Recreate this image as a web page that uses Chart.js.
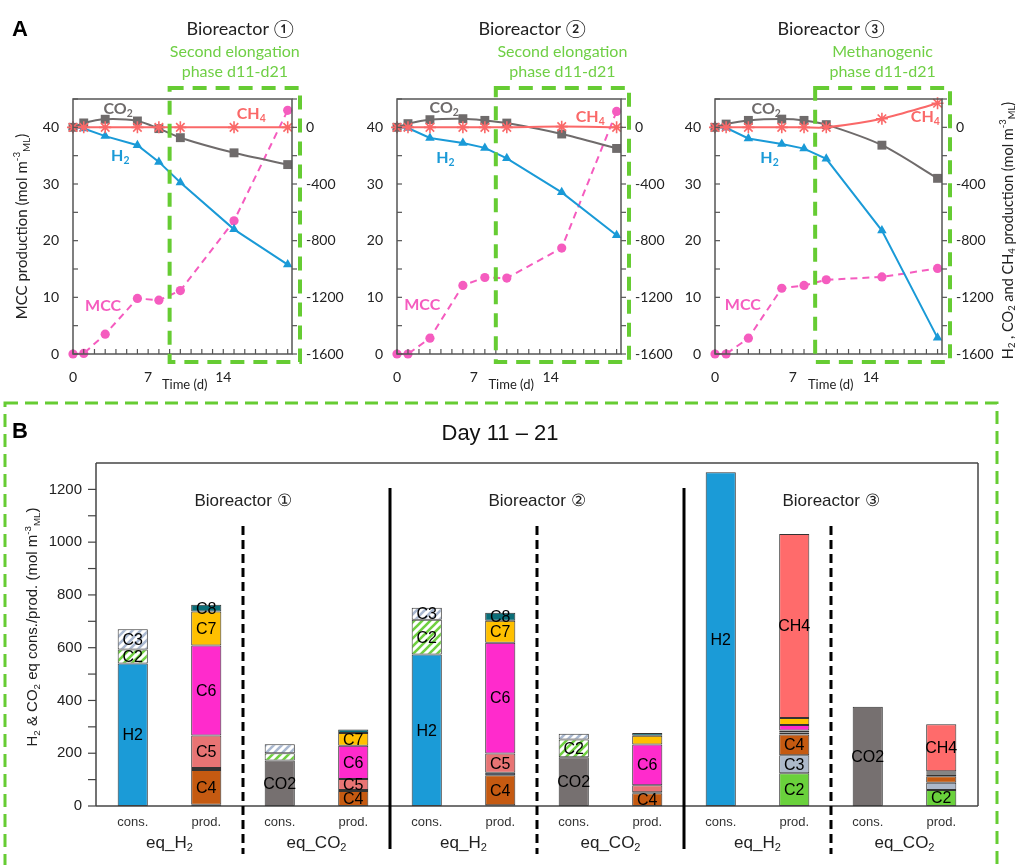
<!DOCTYPE html>
<html><head><meta charset="utf-8">
<script src="https://cdn.jsdelivr.net/npm/chart.js@4.4.0/dist/chart.umd.min.js"></script>
<style>
html,body{margin:0;padding:0;background:#fff;}
#wrap{position:relative;width:1018px;height:865px;overflow:hidden;background:#fff;}
canvas{position:absolute;left:0;}
</style></head><body>
<div id="wrap">
<canvas id="a1" width="1018" height="395" style="top:0"></canvas>
<canvas id="a2" width="1018" height="395" style="top:0"></canvas>
<canvas id="a3" width="1018" height="395" style="top:0"></canvas>
<canvas id="b" width="1018" height="470" style="top:395px"></canvas>
</div>
<script>
// ===== Panel A data =====
const DAYS = [0, 1, 3, 6, 8, 10, 15, 20];
const R1_MCC = [0, 0.1, 3.5, 9.8, 9.5, 11.2, 23.5, 43.0];
const R1_CO2 = [0, 31, 57, 45, -9, -73, -180, -263];
const R1_H2  = [0, -8, -62, -126, -244, -389, -720, -969];
const R1_CH4 = [0, 0, 0, 0, 0, 0, 0, 0];
const R2_MCC = [0, 0, 2.8, 12.1, 13.5, 13.4, 18.7, 42.8];
const R2_CO2 = [0, 26, 54, 61, 49, 30, -47, -149];
const R2_H2  = [0, -5, -75, -110, -145, -219, -459, -762];
const R2_CH4 = [0, 0, 0, 0, 0, 0, 5, 0];
const R3_MCC = [0, 0, 2.8, 11.6, 12.1, 13.1, 13.6, 15.1];
const R3_CO2 = [0, 23, 49, 58, 49, 19, -126, -360];
const R3_H2  = [0, -3, -79, -117, -150, -222, -729, -1486];
const R3_CH4 = [0, 0, 0, 0, 0, 0, 61, 170];
const A_TITLES = ['Bioreactor \u2460', 'Bioreactor \u2461', 'Bioreactor \u2462'];
const A_PHASE = [['Second elongation', 'phase d11-d21'], ['Second elongation', 'phase d11-d21'], ['Methanogenic', 'phase d11-d21']];
const PHASE_START = 9;
const X_TICKS_STEP = 7;

// ===== Panel B data =====
const BAR_LABELS = ['cons.','prod.','cons.','prod.','cons.','prod.','cons.','prod.','cons.','prod.','cons.','prod.'];
const B_TITLES = ['Bioreactor \u2460', 'Bioreactor \u2461', 'Bioreactor \u2462'];
const B_H2   = [540, null, null, null, 574, null, null, null, 1265, null, null, null];
const B_CO2  = [null, null, 172, null, null, null, 185, null, null, null, 376, null];
const B_C2c  = [53, null, 28, null, 132, null, 67, null, null, null, null, null];
const B_C3c  = [77, null, 34, null, 45, null, 22, null, null, null, null, null];
const B_C2p  = [null, 5, null, null, null, 3, null, null, null, 124, null, 61];
const B_C3p  = [null, null, null, null, null, null, null, null, null, 68, null, 27];
const B_C4   = [null, 131, null, 57, null, 114, null, 48, null, 79, null, 25];
const B_iC4  = [null, 8, null, 4, null, 9, null, 4, null, 8, null, 5];
const B_C5   = [null, 123, null, 41, null, 73, null, 27, null, 7, null, 4];
const B_C6   = [null, 341, null, 126, null, 420, null, 154, null, 21, null, 4];
const B_C7   = [null, 129, null, 49, null, 83, null, 33, null, 27, null, 6];
const B_C8   = [null, 26, null, 13, null, 30, null, 11, null, null, null, null];
const B_CH4  = [null, null, null, null, null, null, null, null, null, 697, null, 178];

// ===== styles =====
const COL = {H2:'#1a9ad7', CO2:'#6f6b6b', CH4:'#fa6868', MCC:'#f55cbf', green:'#66cc33', greenText:'#6fcf45', axis:'#555'};
const FA = 'Lato, "Open Sans", sans-serif';
const FB = '"Liberation Sans", Arial, sans-serif';
const plainNum = v => String(v);

function drawRich(ctx, parts, x, y, size, o) {
  o = o || {};
  const fam = o.family || FA, wt = o.weight || 'normal';
  const small = size * 0.65;
  ctx.save();
  ctx.fillStyle = o.color || '#000';
  ctx.textBaseline = 'middle'; ctx.textAlign = 'left';
  let w = 0;
  const items = parts.map(p => {
    const t = typeof p === 'string' ? p : p[0];
    const m = typeof p === 'string' ? 0 : p[1];
    const s = m ? small : size;
    ctx.font = wt + ' ' + s + 'px ' + fam;
    const mw = ctx.measureText(t).width; w += mw;
    return {t, m, s, w: mw};
  });
  ctx.translate(x, y);
  if (o.rotate) ctx.rotate(o.rotate);
  let cx = o.align === 'left' ? 0 : (o.align === 'right' ? -w : -w / 2);
  items.forEach(it => {
    ctx.font = wt + ' ' + it.s + 'px ' + fam;
    const dy = it.m === 1 ? size * 0.3 : (it.m === 2 ? -size * 0.33 : 0);
    ctx.fillText(it.t, cx, dy);
    cx += it.w;
  });
  ctx.restore();
}
function seg(ctx, x1, y1, x2, y2) { ctx.beginPath(); ctx.moveTo(x1, y1); ctx.lineTo(x2, y2); ctx.stroke(); }

// ===== Panel A =====
const A_LEFT = [73, 397, 715], A_RIGHT = [292, 621, 942];
const A_TOP = 99, A_BOTTOM = 354;
const A_TITLE_X = [240, 532, 831];
const A_SERIES_LABEL_POS = [
  {CO2:[4.2, 43.3], H2:[4.4, 35], CH4:[16.6, 42.3], MCC:[2.8, 8.5]},
  {CO2:[4.3, 43.5], H2:[4.4, 34.6], CH4:[17.6, 41.9], MCC:[2.3, 8.7]},
  {CO2:[4.6, 43.3], H2:[4.9, 34.6], CH4:[18.9, 41.9], MCC:[2.5, 8.6]}
];
const A_SERIES = [
  {MCC:R1_MCC, CO2:R1_CO2, H2:R1_H2, CH4:R1_CH4},
  {MCC:R2_MCC, CO2:R2_CO2, H2:R2_H2, CH4:R2_CH4},
  {MCC:R3_MCC, CO2:R3_CO2, H2:R3_H2, CH4:R3_CH4}
];
function pts(vals) { return DAYS.map((d, i) => ({x: d, y: vals[i]})); }

function makeA(idx) {
  const LW = 45, RW = 62;
  const s = A_SERIES[idx];
  const tickFont = {family: FA, size: 14};
  const plug = {
    id: 'aDeco' + idx,
    afterDraw(chart) {
      const ctx = chart.ctx, ca = chart.chartArea;
      const xs = chart.scales.x, yL = chart.scales.yL, yR = chart.scales.yR;
      ctx.save();
      ctx.strokeStyle = COL.axis; ctx.lineWidth = 1.5;
      ctx.strokeRect(ca.left, ca.top, ca.right - ca.left, ca.bottom - ca.top);
      ctx.lineWidth = 1.2;
      for (let v = 0; v <= 45; v += 5) { const py = yL.getPixelForValue(v); seg(ctx, ca.left, py, ca.left + 5, py); }
      for (let v = -1600; v <= 200; v += 200) { const py = yR.getPixelForValue(v); seg(ctx, ca.right, py, ca.right + 5, py); }
      for (let d = 0; d <= 20; d++) { const px = xs.getPixelForValue(d); seg(ctx, px, ca.bottom, px, ca.bottom - 5); }
      // green dashed box
      const gl = xs.getPixelForValue(PHASE_START), gr = ca.right + 8, gt = ca.top - 11, gb = ca.bottom + 8;
      ctx.strokeStyle = COL.green; ctx.lineWidth = 4; ctx.setLineDash([14, 9]);
      ctx.strokeRect(gl, gt, gr - gl, gb - gt);
      ctx.setLineDash([]);
      // titles
      ctx.fillStyle = '#222'; ctx.textAlign = 'center'; ctx.textBaseline = 'middle';
      ctx.font = '18px ' + FA;
      ctx.fillText(A_TITLES[idx], A_TITLE_X[idx], 29);
      ctx.fillStyle = COL.greenText; ctx.font = '16px ' + FA;
      ctx.fillText(A_PHASE[idx][0], (gl + gr) / 2, 52);
      ctx.fillText(A_PHASE[idx][1], (gl + gr) / 2, 72);
      // time label
      ctx.fillStyle = '#222'; ctx.font = '13px ' + FA;
      ctx.fillText('Time (d)', xs.getPixelForValue(10.4), ca.bottom + 31);
      // series labels
      const P = A_SERIES_LABEL_POS[idx];
      const lf = 'bold';
      drawRich(ctx, ['CO', ['2', 1]], xs.getPixelForValue(P.CO2[0]), yL.getPixelForValue(P.CO2[1]), 16, {color: COL.CO2, weight: lf});
      drawRich(ctx, ['H', ['2', 1]], xs.getPixelForValue(P.H2[0]), yL.getPixelForValue(P.H2[1]), 16, {color: COL.H2, weight: lf});
      drawRich(ctx, ['CH', ['4', 1]], xs.getPixelForValue(P.CH4[0]), yL.getPixelForValue(P.CH4[1]), 16, {color: COL.CH4, weight: lf});
      drawRich(ctx, ['MCC'], xs.getPixelForValue(P.MCC[0]), yL.getPixelForValue(P.MCC[1]), 16, {color: COL.MCC, weight: lf});
      if (idx === 0) {
        ctx.fillStyle = '#000'; ctx.font = 'bold 22px ' + FB; ctx.textAlign = 'left';
        ctx.fillText('A', 12, 30);
        drawRich(ctx, ['MCC production (mol m', ['-3', 2], ['ML', 1], ')'], 22, (ca.top + ca.bottom) / 2, 15, {color: '#222', rotate: -Math.PI / 2});
      }
      if (idx === 2) {
        drawRich(ctx, ['H', ['2', 1], ' , CO', ['2', 1], ' and CH', ['4', 1], ' production (mol m', ['-3', 2], ['ML', 1], ')'],
          1008, (ca.top + ca.bottom) / 2 + 4, 14.5, {color: '#222', rotate: -Math.PI / 2});
      }
      ctx.restore();
    }
  };
  new Chart(document.getElementById('a' + (idx + 1)), {
    type: 'line',
    data: {datasets: [
      {label: 'CH4', data: pts(s.CH4), yAxisID: 'yR', borderColor: COL.CH4, backgroundColor: COL.CH4, borderWidth: 2,
       pointStyle: 'star', pointRadius: 6, pointBorderWidth: 1.6, pointBorderColor: COL.CH4, tension: 0.3},
      {label: 'CO2', data: pts(s.CO2), yAxisID: 'yR', borderColor: COL.CO2, backgroundColor: COL.CO2, borderWidth: 2,
       pointStyle: 'rect', pointRadius: 6.3, pointBorderWidth: 0, pointBackgroundColor: COL.CO2, tension: 0.3},
      {label: 'H2', data: pts(s.H2), yAxisID: 'yR', borderColor: COL.H2, backgroundColor: COL.H2, borderWidth: 2,
       pointStyle: 'triangle', pointRadius: 5.5, pointBorderWidth: 0, pointBackgroundColor: COL.H2, tension: 0},
      {label: 'MCC', data: pts(s.MCC), yAxisID: 'yL', borderColor: COL.MCC, backgroundColor: COL.MCC, borderWidth: 2,
       borderDash: [7, 5], pointStyle: 'circle', pointRadius: 4.6, pointBorderWidth: 0, pointBackgroundColor: COL.MCC, tension: 0}
    ]},
    options: {
      responsive: false, animation: false, clip: false,
      layout: {padding: {left: A_LEFT[idx] - LW, right: 1018 - A_RIGHT[idx] - RW, top: A_TOP, bottom: 0}},
      plugins: {legend: {display: false}, tooltip: {enabled: false}},
      scales: {
        x: {type: 'linear', min: 0, max: 20.4, afterFit: sc => { sc.height = 395 - A_BOTTOM; },
            grid: {display: false, drawTicks: false}, border: {display: false},
            ticks: {stepSize: X_TICKS_STEP, includeBounds: false, autoSkip: false, maxRotation: 0, padding: 15, font: tickFont, color: '#222', callback: plainNum}},
        yL: {position: 'left', min: 0, max: 45, afterFit: sc => { sc.width = LW; },
            grid: {display: false, drawTicks: false}, border: {display: false},
            ticks: {stepSize: 10, includeBounds: false, autoSkip: false, padding: 14, font: tickFont, color: '#222', callback: plainNum}},
        yR: {position: 'right', min: -1600, max: 200, afterFit: sc => { sc.width = RW; },
            grid: {display: false, drawTicks: false}, border: {display: false},
            ticks: {stepSize: 400, includeBounds: false, autoSkip: false, padding: 14, font: tickFont, color: '#222', callback: plainNum}}
      }
    },
    plugins: [plug]
  });
}
[0, 1, 2].forEach(makeA);

// ===== Panel B =====
function hatch(color) {
  const c = document.createElement('canvas'); c.width = 8; c.height = 8;
  const g = c.getContext('2d');
  g.fillStyle = '#fff'; g.fillRect(0, 0, 8, 8);
  g.strokeStyle = color; g.lineWidth = 2.6; g.lineCap = 'square';
  [[-8, 8, 8, -8], [0, 8, 8, 0], [0, 16, 16, 0]].forEach(l => { g.beginPath(); g.moveTo(l[0], l[1]); g.lineTo(l[2], l[3]); g.stroke(); });
  return document.getElementById('b').getContext('2d').createPattern(c, 'repeat');
}
const B_SETS = [
  {label: 'H2', data: B_H2, bg: '#1b9bd7'},
  {label: 'CO2', data: B_CO2, bg: '#767070'},
  {label: 'C2', data: B_C2c, bg: hatch('#6fd040')},
  {label: 'C3', data: B_C3c, bg: hatch('#a9b8d0')},
  {label: 'C2', data: B_C2p, bg: '#6ad13c'},
  {label: 'C3', data: B_C3p, bg: '#adb9ca'},
  {label: 'C4', data: B_C4, bg: '#c55a11'},
  {label: 'iC4', data: B_iC4, bg: '#1f3864', min: Infinity},
  {label: 'C5', data: B_C5, bg: '#e87474'},
  {label: 'C6', data: B_C6, bg: '#ff2bcc'},
  {label: 'C7', data: B_C7, bg: '#ffc000'},
  {label: 'C8', data: B_C8, bg: '#0b6e78', min: 20},
  {label: 'CH4', data: B_CH4, bg: '#ff6b6b'}
];
const B_LEFT = 96, B_RIGHT = 978, B_TOP = 463 - 395, B_BOTTOM = 806 - 395;
const bPlug = {
  id: 'bDeco',
  afterDatasetsDraw(chart) {
    const ctx = chart.ctx;
    ctx.save();
    ctx.fillStyle = '#000'; ctx.font = '16px ' + FB; ctx.textAlign = 'center'; ctx.textBaseline = 'middle';
    chart.data.datasets.forEach((ds, di) => {
      const meta = chart.getDatasetMeta(di);
      const mn = ds.labelMin === undefined ? 40 : ds.labelMin;
      ds.data.forEach((v, i) => {
        if (v == null || v < mn) return;
        const el = meta.data[i];
        ctx.fillText(ds.label, el.x, (el.y + el.base) / 2 + 1);
      });
    });
    ctx.restore();
  },
  afterDraw(chart) {
    const ctx = chart.ctx, ca = chart.chartArea, xs = chart.scales.x, ys = chart.scales.y;
    ctx.save();
    ctx.strokeStyle = '#444'; ctx.lineWidth = 1.5;
    seg(ctx, ca.left, ca.top, ca.right, ca.top);
    seg(ctx, ca.right, ca.top, ca.right, ca.bottom);
    seg(ctx, ca.left, ca.top, ca.left, ca.bottom);
    seg(ctx, ca.left, ca.bottom, ca.right, ca.bottom);
    ctx.lineWidth = 1.2;
    for (let v = 0; v <= 1200; v += 100) { const py = ys.getPixelForValue(v); seg(ctx, ca.left - 8, py, ca.left, py); }
    const mid = i => (xs.getPixelForValue(i) + xs.getPixelForValue(i + 1)) / 2;
    ctx.strokeStyle = '#000'; ctx.lineWidth = 3;
    [3, 7].forEach(i => seg(ctx, mid(i), 93, mid(i), 454));
    ctx.setLineDash([9, 5]);
    [1, 5, 9].forEach(i => seg(ctx, mid(i), 131, mid(i), 459));
    ctx.setLineDash([]);
    ctx.fillStyle = '#222'; ctx.font = '17px ' + FB; ctx.textAlign = 'center'; ctx.textBaseline = 'middle';
    [1, 5, 9].forEach((i, k) => ctx.fillText(B_TITLES[k], mid(i), 106));
    for (let g = 0; g < 6; g++) {
      const cx = mid(g * 2);
      const parts = g % 2 === 0 ? ['eq_H', ['2', 1]] : ['eq_CO', ['2', 1]];
      drawRich(ctx, parts, cx, 448, 17, {family: FB, color: '#222'});
    }
    drawRich(ctx, ['H', ['2', 1], ' & CO', ['2', 1], ' eq cons./prod. (mol m', ['-3', 2], ['ML', 1], ')'], 33, 232, 15,
      {family: FB, color: '#222', rotate: -Math.PI / 2});
    ctx.fillStyle = '#111'; ctx.font = '22px ' + FB;
    ctx.fillText('Day 11 \u2013 21', 500, 39);
    ctx.fillStyle = '#000'; ctx.font = 'bold 22px ' + FB; ctx.textAlign = 'left';
    ctx.fillText('B', 12, 37);
    ctx.strokeStyle = COL.green; ctx.lineWidth = 3; ctx.setLineDash([13, 7]);
    ctx.strokeRect(5, 8, 992, 500);
    ctx.restore();
  }
};
new Chart(document.getElementById('b'), {
  type: 'bar',
  data: {labels: BAR_LABELS, datasets: B_SETS.map(s => ({
    label: s.label, data: s.data, backgroundColor: s.bg, borderColor: '#333', borderWidth: 1,
    borderSkipped: false, barPercentage: 0.41, categoryPercentage: 1, labelMin: s.min
  }))},
  options: {
    responsive: false, animation: false,
    layout: {padding: {left: 0, right: 1018 - B_RIGHT, top: B_TOP, bottom: 0}},
    plugins: {legend: {display: false}, tooltip: {enabled: false}},
    scales: {
      x: {stacked: true, afterFit: sc => { sc.height = 470 - B_BOTTOM; },
          grid: {display: false, drawTicks: false}, border: {display: false},
          ticks: {padding: 9, autoSkip: false, maxRotation: 0, font: {family: FB, size: 13}, color: '#333'}},
      y: {stacked: true, min: 0, max: 1300, afterFit: sc => { sc.width = B_LEFT; },
          grid: {display: false, drawTicks: false}, border: {display: false},
          ticks: {stepSize: 200, includeBounds: false, autoSkip: false, padding: 14, font: {family: FB, size: 15}, color: '#222', callback: plainNum}}
    }
  },
  plugins: [bPlug]
});
</script>
</body></html>
